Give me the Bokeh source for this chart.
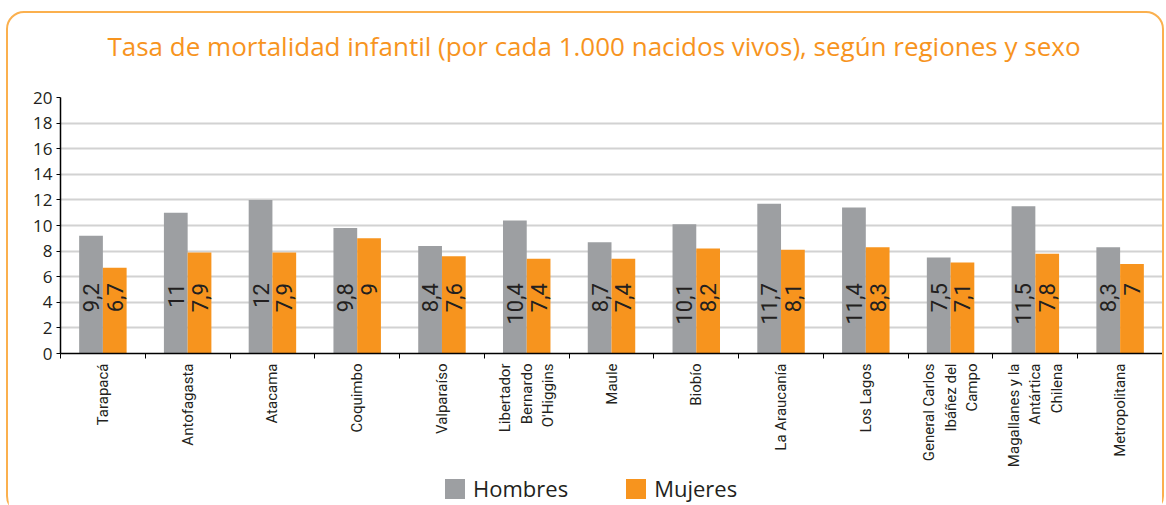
import math
from bokeh.plotting import figure
from bokeh.layouts import column
from bokeh.models import (ColumnDataSource, FixedTicker, Legend, LegendItem,
                          Range1d, Div)
from bokeh.transform import dodge
from bokeh.core.properties import value
from bokeh.embed import file_html
from bokeh.resources import INLINE

titulo = "Tasa de mortalidad infantil (por cada 1.000 nacidos vivos), según regiones y sexo"
regiones = ["Tarapacá", "Antofagasta", "Atacama", "Coquimbo", "Valparaíso",
            "Libertador\nBernardo\nO'Higgins", "Maule", "Biobío", "La Araucanía",
            "Los Lagos", "General Carlos\nIbáñez del\nCampo",
            "Magallanes y la\nAntártica\nChilena", "Metropolitana"]
series = ["Hombres", "Mujeres"]
hombres = [9.2, 11, 12, 9.8, 8.4, 10.4, 8.7, 10.1, 11.7, 11.4, 7.5, 11.5, 8.3]
mujeres = [6.7, 7.9, 7.9, 9, 7.6, 7.4, 7.4, 8.2, 8.1, 8.3, 7.1, 7.8, 7]
y_ticks = [0, 2, 4, 6, 8, 10, 12, 14, 16, 18, 20]

GRAY = "#9d9fa2"
ORANGE = "#f7941e"
TXT = "#231f20"
W = 1154


def fmt(v):
    return ("%g" % v).replace(".", ",")


xs = [i + 0.5 for i in range(len(regiones))]
src = ColumnDataSource(dict(
    x=xs, h=hombres, m=mujeres,
    lh=[fmt(v) for v in hombres], lm=[fmt(v) for v in mujeres],
))

# ---- title as a Div
title_div = Div(
    text=('<div style="width:%dpx;box-sizing:border-box;font-family:\'Open Sans\';'
          'font-size:26px;line-height:34px;color:%s;text-align:center;'
          'padding:16px 0 0 18px;white-space:nowrap;">%s</div>'
          % (W, ORANGE, titulo)),
    width=W, height=70, margin=0)

# ---- main chart
p = figure(frame_width=1102, frame_height=256, x_range=Range1d(0, len(regiones)),
           y_range=Range1d(0, 20), output_backend="svg", toolbar_location=None,
           min_border_left=52, min_border_right=0, min_border_top=14,
           min_border_bottom=108, margin=0)
p.outline_line_color = None

rh = p.vbar(x=dodge("x", -0.14, range=p.x_range), top="h", width=0.28, source=src,
            fill_color=GRAY, line_color=None)
rm = p.vbar(x=dodge("x", 0.14, range=p.x_range), top="m", width=0.28, source=src,
            fill_color=ORANGE, line_color=None)

for col, off in (("lh", -0.14), ("lm", 0.14)):
    p.text(x=dodge("x", off, range=p.x_range), y=5.5, text=col, source=src,
           angle=math.pi / 2, text_align="right", text_baseline="middle",
           text_font=value("Roboto"), text_font_size="22px",
           text_color=TXT)

p.xaxis.ticker = FixedTicker(ticks=xs, minor_ticks=list(range(len(regiones) + 1)))
p.xaxis.major_label_overrides = {x: r for x, r in zip(xs, regiones)}
p.xaxis.major_label_orientation = math.pi / 2
p.xaxis.major_tick_out = 0
p.xaxis.major_tick_in = 0
p.xaxis.minor_tick_out = 5
p.xaxis.minor_tick_in = 0
p.xaxis.minor_tick_line_color = "black"
p.xaxis.axis_line_color = "black"
p.xaxis.axis_line_width = 1.5
p.xaxis.major_label_text_font = "Roboto"
p.xaxis.major_label_text_font_size = "15px"
p.xaxis.major_label_text_color = TXT
p.xaxis.major_label_standoff = 5

p.yaxis.ticker = FixedTicker(ticks=y_ticks)
p.yaxis.major_tick_out = 4
p.yaxis.major_tick_in = 0
p.yaxis.minor_tick_line_color = None
p.yaxis.axis_line_color = "black"
p.yaxis.axis_line_width = 1.5
p.yaxis.major_label_text_font = "Open Sans"
p.yaxis.major_label_text_font_size = "17px"
p.yaxis.major_label_text_color = TXT
p.yaxis.major_label_standoff = 4

p.xgrid.grid_line_color = None
p.ygrid.grid_line_color = "#d2d2d2"
p.ygrid.grid_line_width = 2

# ---- legend strip
pl = figure(frame_width=1102, frame_height=42, x_range=Range1d(0, 1),
            y_range=Range1d(0, 1), output_backend="svg", toolbar_location=None,
            min_border_left=52, min_border_right=0, min_border_top=0,
            min_border_bottom=0, margin=0)
pl.axis.visible = False
pl.grid.grid_line_color = None
pl.outline_line_color = None
lh = pl.vbar(x=[-1], top=[0], width=0.1, fill_color=GRAY, line_color=None)
lm = pl.vbar(x=[-1], top=[0], width=0.1, fill_color=ORANGE, line_color=None)
legend = Legend(items=[LegendItem(label=series[0], renderers=[lh]),
                       LegendItem(label=series[1], renderers=[lm])],
                orientation="horizontal", location=(382, 9),
                glyph_width=25, glyph_height=25, label_standoff=6,
                spacing=55,
                label_text_font="Open Sans", label_text_font_size="22px",
                label_text_color=TXT, border_line_color=None,
                background_fill_alpha=0, padding=0, margin=0)
pl.add_layout(legend, "center")

layout = column(title_div, p, pl, spacing=0,
                styles={"border": "2px solid #fbb04e", "border-radius": "18px",
                        "margin": "11px 0 0 6px"})

open("out.html", "w").write(file_html(layout, INLINE))
